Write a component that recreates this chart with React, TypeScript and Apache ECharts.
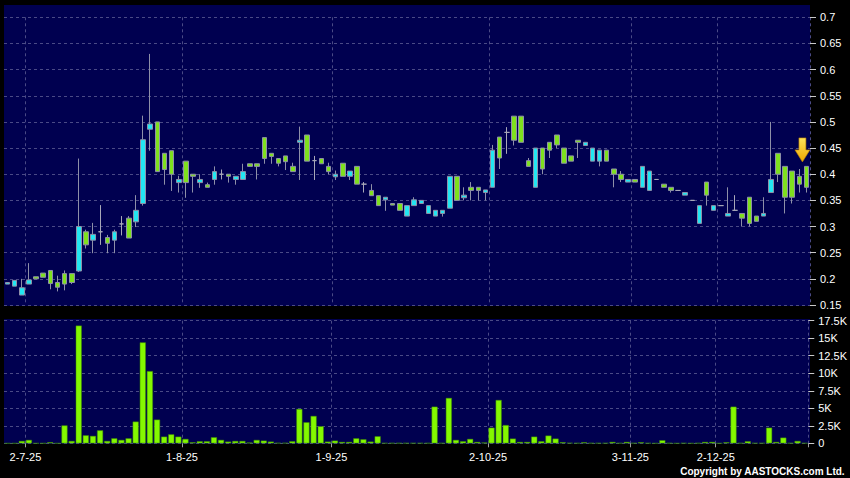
import React, { useEffect, useRef } from "react";
import * as echarts from "echarts";

const categories = [
  "26-6-25", "27-6-25", "30-6-25",
  "2-7-25", "3-7-25", "4-7-25", "7-7-25", "8-7-25", "9-7-25", "10-7-25", "11-7-25", "14-7-25", "15-7-25", "16-7-25", "17-7-25", "18-7-25", "21-7-25", "22-7-25", "23-7-25", "24-7-25", "25-7-25", "28-7-25", "29-7-25", "30-7-25", "31-7-25",
  "1-8-25", "4-8-25", "5-8-25", "6-8-25", "7-8-25", "8-8-25", "11-8-25", "12-8-25", "13-8-25", "14-8-25", "15-8-25", "18-8-25", "19-8-25", "20-8-25", "21-8-25", "22-8-25", "25-8-25", "26-8-25", "27-8-25", "28-8-25", "29-8-25",
  "1-9-25", "2-9-25", "3-9-25", "4-9-25", "5-9-25", "8-9-25", "9-9-25", "10-9-25", "11-9-25", "12-9-25", "15-9-25", "16-9-25", "17-9-25", "18-9-25", "19-9-25", "22-9-25", "23-9-25", "24-9-25", "25-9-25", "26-9-25", "29-9-25", "30-9-25",
  "2-10-25", "3-10-25", "6-10-25", "8-10-25", "9-10-25", "10-10-25", "13-10-25", "14-10-25", "15-10-25", "16-10-25", "17-10-25", "20-10-25", "21-10-25", "22-10-25", "23-10-25", "24-10-25", "27-10-25", "28-10-25", "30-10-25", "31-10-25",
  "3-11-25", "4-11-25", "6-11-25", "10-11-25", "12-11-25", "14-11-25", "17-11-25", "19-11-25", "21-11-25", "24-11-25", "26-11-25", "28-11-25",
  "2-12-25", "3-12-25", "4-12-25", "5-12-25", "8-12-25", "9-12-25", "10-12-25", "11-12-25", "12-12-25", "15-12-25", "16-12-25", "17-12-25", "18-12-25",
];

const tickLabels = ["2-7-25", "1-8-25", "1-9-25", "2-10-25", "3-11-25", "2-12-25"];

const openPrices = [
  0.19, 0.186, 0.169, 0.19, 0.204, 0.211, 0.216, 0.193, 0.21, 0.21,
  0.215, 0.29, 0.274, 0.29, 0.279, 0.274, 0.305, 0.316, 0.309, 0.344,
  0.486, 0.5, 0.44, 0.445, 0.384, 0.425, 0.4, 0.384, 0.38, 0.39,
  0.4, 0.4, 0.39, 0.39, 0.42, 0.42, 0.47, 0.44, 0.43, 0.435,
  0.415, 0.461, 0.475, 0.426, 0.43, 0.415, 0.395, 0.421, 0.396, 0.415,
  0.381, 0.369, 0.359, 0.351, 0.344, 0.344, 0.32, 0.34, 0.344, 0.325,
  0.32, 0.325, 0.335, 0.396, 0.355, 0.375, 0.375, 0.365, 0.375, 0.471,
  0.48, 0.511, 0.511, 0.426, 0.375, 0.45, 0.461, 0.475, 0.45, 0.435,
  0.465, 0.455, 0.425, 0.425, 0.446, 0.41, 0.4, 0.385, 0.39, 0.375,
  0.369, 0.39, 0.381, 0.375, 0.369, 0.36, 0.35, 0.306, 0.385, 0.331,
  0.34, 0.32, 0.331, 0.325, 0.356, 0.32, 0.32, 0.365, 0.44, 0.415,
  0.406, 0.396, 0.415,
];

const closePrices = [
  0.193, 0.197, 0.183, 0.198, 0.2, 0.203, 0.191, 0.184, 0.19, 0.193,
  0.3, 0.265, 0.285, 0.29, 0.268, 0.29, 0.305, 0.278, 0.331, 0.466,
  0.496, 0.405, 0.409, 0.4, 0.39, 0.384, 0.396, 0.39, 0.375, 0.405,
  0.4, 0.396, 0.396, 0.405, 0.415, 0.415, 0.43, 0.434, 0.421, 0.424,
  0.405, 0.465, 0.425, 0.426, 0.42, 0.405, 0.4, 0.396, 0.406, 0.381,
  0.381, 0.359, 0.34, 0.356, 0.341, 0.331, 0.34, 0.351, 0.35, 0.34,
  0.331, 0.331, 0.396, 0.35, 0.36, 0.369, 0.369, 0.37, 0.446, 0.431,
  0.48, 0.465, 0.461, 0.415, 0.45, 0.41, 0.446, 0.456, 0.421, 0.425,
  0.461, 0.461, 0.45, 0.446, 0.425, 0.4, 0.39, 0.39, 0.385, 0.415,
  0.406, 0.39, 0.375, 0.369, 0.369, 0.365, 0.35, 0.34, 0.36, 0.34,
  0.34, 0.325, 0.331, 0.316, 0.306, 0.31, 0.325, 0.39, 0.4, 0.356,
  0.356, 0.381, 0.375,
];

const lowPrices = [
  0.19, 0.186, 0.169, 0.19, 0.2, 0.203, 0.18, 0.176, 0.178, 0.19,
  0.213, 0.258, 0.249, 0.265, 0.249, 0.249, 0.283, 0.278, 0.299, 0.34,
  0.445, 0.405, 0.38, 0.368, 0.365, 0.355, 0.365, 0.374, 0.375, 0.38,
  0.39, 0.384, 0.38, 0.39, 0.415, 0.39, 0.42, 0.42, 0.415, 0.408,
  0.405, 0.389, 0.425, 0.389, 0.42, 0.4, 0.389, 0.396, 0.389, 0.381,
  0.365, 0.359, 0.34, 0.33, 0.341, 0.331, 0.32, 0.34, 0.344, 0.325,
  0.32, 0.319, 0.335, 0.35, 0.35, 0.35, 0.35, 0.35, 0.375, 0.41,
  0.439, 0.455, 0.461, 0.415, 0.375, 0.4, 0.431, 0.45, 0.421, 0.425,
  0.431, 0.455, 0.425, 0.415, 0.425, 0.375, 0.385, 0.385, 0.385, 0.375,
  0.369, 0.39, 0.375, 0.365, 0.369, 0.36, 0.35, 0.306, 0.34, 0.331,
  0.34, 0.32, 0.331, 0.3, 0.3, 0.31, 0.32, 0.365, 0.385, 0.325,
  0.344, 0.365, 0.365,
];

const highPrices = [
  0.193, 0.197, 0.2, 0.23, 0.204, 0.211, 0.216, 0.206, 0.216, 0.21,
  0.43, 0.294, 0.307, 0.341, 0.284, 0.294, 0.32, 0.32, 0.36, 0.512,
  0.63, 0.5, 0.44, 0.445, 0.397, 0.425, 0.4, 0.4, 0.384, 0.415,
  0.409, 0.4, 0.396, 0.42, 0.42, 0.42, 0.47, 0.44, 0.43, 0.435,
  0.422, 0.491, 0.475, 0.435, 0.43, 0.422, 0.407, 0.421, 0.406, 0.415,
  0.385, 0.381, 0.359, 0.356, 0.344, 0.344, 0.34, 0.356, 0.35, 0.34,
  0.331, 0.331, 0.396, 0.396, 0.375, 0.385, 0.375, 0.37, 0.456, 0.471,
  0.49, 0.511, 0.511, 0.431, 0.45, 0.45, 0.461, 0.475, 0.45, 0.435,
  0.465, 0.461, 0.45, 0.446, 0.446, 0.41, 0.406, 0.39, 0.39, 0.415,
  0.406, 0.39, 0.381, 0.375, 0.369, 0.365, 0.35, 0.34, 0.385, 0.34,
  0.34, 0.375, 0.36, 0.325, 0.356, 0.32, 0.356, 0.5, 0.44, 0.415,
  0.406, 0.41, 0.415,
];

const volumes = [
  0, 0, 330, 480, 0, 0, 150, 0, 2550, 330,
  16800, 1140, 1050, 1850, 330, 710, 480, 710, 3100, 14400,
  10300, 3380, 950, 1280, 950, 620, 140, 290, 290, 860,
  480, 240, 330, 330, 100, 480, 380, 240, 50, 50,
  290, 4900, 3000, 3900, 2430, 240, 380, 190, 190, 710,
  570, 240, 1000, 30, 30, 30, 30, 30, 30, 30,
  5230, 30, 6470, 480, 290, 620, 190, 100, 2230, 6180,
  2600, 670, 190, 190, 950, 290, 1100, 670, 150, 50,
  30, 140, 30, 30, 30, 190, 30, 190, 30, 140,
  30, 0, 430, 30, 0, 30, 0, 30, 190, 190,
  0, 140, 5230, 30, 290, 30, 30, 2230, 190, 810,
  30, 330, 30,
];

const FONT = '"Liberation Sans", Arial, sans-serif';
const NAVY = "#000050";
const GRID_COLOR = "#4a4a86";
const CYAN = "#22e6f2";
const GREEN = "#7fe01e";
const WICK = "#8e90a8";
const LIME = "#84f800";

export default function App() {
  const ref = useRef<HTMLDivElement>(null);

  useEffect(() => {
    if (!ref.current) return;
    const chart = echarts.init(ref.current, null, { renderer: "svg" });
    const candles = categories.map((_, i) => [openPrices[i], closePrices[i], lowPrices[i], highPrices[i]]);
    const last = categories.length - 1;
    const isTick = (i: number) => tickLabels.includes(categories[i]);
    const dashed = { color: GRID_COLOR, type: [3, 3], width: 1 };
    const vSplit = { show: true, interval: (i: number) => isTick(i), lineStyle: dashed };

    chart.setOption({
      animation: false,
      backgroundColor: "#000000",
      textStyle: { fontFamily: FONT },
      graphic: [
        { type: "rect", z: -10, silent: true, shape: { x: 4, y: 5, width: 806, height: 301 }, style: { fill: NAVY } },
        { type: "rect", z: -10, silent: true, shape: { x: 4, y: 319, width: 806, height: 125 }, style: { fill: NAVY } },
        {
          type: "text",
          right: 5,
          top: 466,
          style: { text: "Copyright by AASTOCKS.com Ltd.", fill: "#ffffff", font: `bold 10px ${FONT}` },
        },
      ],
      grid: [
        { left: 4, right: 40, top: 17.3, height: 287.7 },
        { left: 4, right: 40, top: 320.7, height: 122.6 },
      ],
      xAxis: [
        {
          type: "category",
          gridIndex: 0,
          data: categories,
          boundaryGap: true,
          axisLine: { show: false },
          axisTick: { show: false },
          axisLabel: { show: false },
          splitLine: vSplit,
        },
        {
          type: "category",
          gridIndex: 1,
          data: categories,
          boundaryGap: true,
          axisLine: { show: false },
          axisTick: { show: true, interval: (i: number) => isTick(i), length: 4, lineStyle: { color: "#a0a0a0" } },
          axisLabel: {
            show: true,
            interval: (i: number) => isTick(i),
            color: "#ffffff",
            fontSize: 11,
            fontFamily: FONT,
            margin: 8,
            padding: [0, 7, 0, 0],
          },
          splitLine: vSplit,
        },
      ],
      yAxis: [
        {
          type: "value",
          gridIndex: 0,
          position: "right",
          min: 0.15,
          max: 0.7,
          interval: 0.05,
          axisLine: { show: false },
          axisTick: { show: true, length: 6, lineStyle: { color: "#c8c8c8" } },
          axisLabel: {
            color: "#ffffff",
            fontSize: 11,
            fontFamily: FONT,
            margin: 10,
            formatter: (v: number) => String(Number(v.toFixed(2))),
          },
          splitLine: { show: true, lineStyle: dashed },
        },
        {
          type: "value",
          gridIndex: 1,
          position: "right",
          min: 0,
          max: 17500,
          interval: 2500,
          axisLine: { show: false },
          axisTick: { show: true, length: 6, lineStyle: { color: "#c8c8c8" } },
          axisLabel: {
            color: "#ffffff",
            fontSize: 11,
            fontFamily: FONT,
            margin: 10,
            formatter: (v: number) => (v === 0 ? "0" : `${v / 1000}K`),
          },
          splitLine: { show: true, lineStyle: dashed },
        },
      ],
      series: [
        {
          type: "candlestick",
          xAxisIndex: 0,
          yAxisIndex: 0,
          data: candles,
          barWidth: 5,
          itemStyle: {
            color: CYAN,
            color0: GREEN,
            borderColor: WICK,
            borderColor0: WICK,
            borderColorDoji: "#a8a8b8",
            borderWidth: 1,
          },
          markPoint: {
            silent: true,
            symbol: "path://M4,0L11,0L11,12L15,12L7.5,24L0,12L4,12Z",
            symbolSize: [15, 24],
            symbolKeepAspect: false,
            symbolOffset: [-4, -16.5],
            label: { show: false },
            itemStyle: {
              color: {
                type: "linear",
                x: 0,
                y: 0,
                x2: 0,
                y2: 1,
                colorStops: [
                  { offset: 0, color: "#ffe25a" },
                  { offset: 1, color: "#f0a800" },
                ],
              },
              borderColor: "#b07800",
              borderWidth: 0.6,
            },
            data: [{ coord: [categories[last], highPrices[last]] }],
          },
        },
        {
          type: "bar",
          xAxisIndex: 1,
          yAxisIndex: 1,
          data: volumes,
          barWidth: 6,
          itemStyle: { color: LIME, borderColor: "#3f8f00", borderWidth: 0.5 },
        },
      ],
    });

    return () => chart.dispose();
  }, []);

  return <div ref={ref} style={{ position: "fixed", left: 0, top: 0, width: 850, height: 478 }} />;
}
